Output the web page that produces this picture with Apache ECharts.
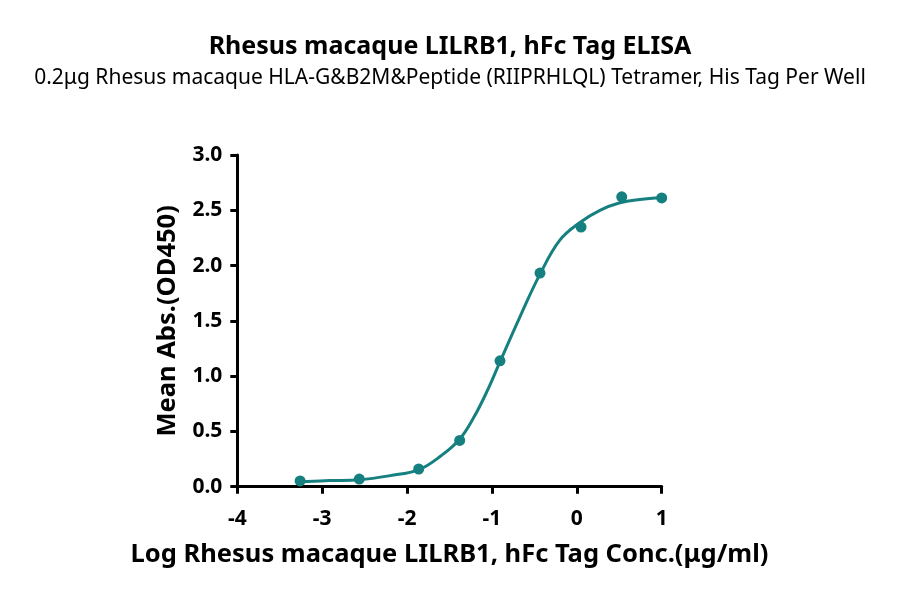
<!DOCTYPE html>
<html>
<head>
<meta charset="utf-8">
<script src="https://cdn.jsdelivr.net/npm/echarts@6/dist/echarts.min.js"></script>
<style>html,body{margin:0;padding:0;background:#fff}#c{width:900px;height:598px}</style>
</head>
<body>
<div id="c"></div>
<script>
// Measured points (log concentration, mean OD450)
const pointX = [-3.26, -2.563, -1.863, -1.38, -0.905, -0.434, 0.05, 0.529, 1.0];
const pointY = [0.052, 0.069, 0.16, 0.418, 1.139, 1.932, 2.348, 2.622, 2.612];
// Fitted curve
const curveX = [-3.26, -2.91, -2.56, -2.2, -1.86, -1.6, -1.38, -1.22, -1.06, -0.905, -0.67, -0.435, -0.2, 0.037, 0.272, 0.508, 0.743, 1.0];
const curveY = [0.045, 0.055, 0.063, 0.1, 0.155, 0.28, 0.43, 0.618, 0.859, 1.13, 1.537, 1.92, 2.23, 2.39, 2.5, 2.568, 2.598, 2.616];
const xTicks = [-4, -3, -2, -1, 0, 1];
const yTicks = [0, 0.5, 1.0, 1.5, 2.0, 2.5, 3.0];

const titleText = 'Rhesus macaque LILRB1, hFc Tag ELISA';
const subtitleText = '0.2μg Rhesus macaque HLA-G&B2M&Peptide (RIIPRHLQL) Tetramer, His Tag Per Well';
const xName = 'Log Rhesus macaque LILRB1, hFc Tag Conc.(μg/ml)';
const yName = 'Mean Abs.(OD450)';

const teal = '#15807f';
const font = 'Noto Sans';

const chart = echarts.init(document.getElementById('c'), null, {renderer: 'canvas'});
chart.setOption({
  backgroundColor: '#fff',
  animation: false,
  title: [
    {text: titleText, left: 'center', top: 29,
     textStyle: {fontFamily: font, fontWeight: 'bold', fontSize: 25, color: '#000'}},
    {text: subtitleText, left: 'center', top: 63,
     textStyle: {fontFamily: font, fontWeight: 'normal', fontSize: 21, color: '#000'}}
  ],
  grid: {left: 237.3, right: 238.3, top: 155, bottom: 111.3, containLabel: false},
  xAxis: {
    type: 'value', min: xTicks[0], max: xTicks[xTicks.length - 1], interval: 1,
    name: xName, nameLocation: 'middle', nameGap: 55,
    nameTextStyle: {fontFamily: font, fontWeight: 'bold', fontSize: 25.5, color: '#000'},
    axisLine: {onZero: false, lineStyle: {color: '#000', width: 3}},
    axisTick: {show: true, length: 7, lineStyle: {color: '#000', width: 3}},
    axisLabel: {margin: 22, fontFamily: font, fontWeight: 'bold', fontSize: 21, color: '#000'},
    splitLine: {show: false}
  },
  yAxis: {
    type: 'value', min: 0, max: 3, interval: 0.5,
    name: yName, nameLocation: 'middle', nameGap: 57,
    nameTextStyle: {fontFamily: font, fontWeight: 'bold', fontSize: 25.5, color: '#000'},
    axisLine: {show: true, onZero: false, lineStyle: {color: '#000', width: 3}},
    axisTick: {show: true, length: 7, lineStyle: {color: '#000', width: 3}},
    axisLabel: {margin: 15, fontFamily: font, fontWeight: 'bold', fontSize: 21, color: '#000',
      formatter: v => v.toFixed(1)},
    splitLine: {show: false}
  },
  series: [
    {type: 'line', data: curveX.map((x, i) => [x, curveY[i]]), smooth: 0.4, showSymbol: false,
     lineStyle: {color: teal, width: 3}, z: 2},
    {type: 'scatter', data: pointX.map((x, i) => [x, pointY[i]]), symbolSize: 11,
     itemStyle: {color: teal, opacity: 1}, z: 3}
  ]
});
</script>
</body>
</html>
